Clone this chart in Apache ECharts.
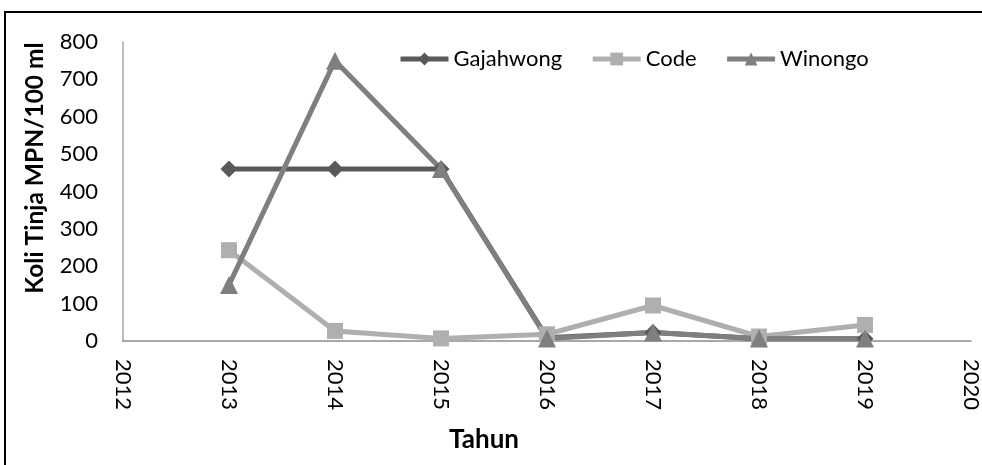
<!DOCTYPE html>
<html>
<head>
<meta charset="utf-8">
<script src="https://cdn.jsdelivr.net/npm/echarts@6/dist/echarts.min.js"></script>
<style>
  html, body { margin: 0; padding: 0; background: #ffffff; }
  #chart { width: 982px; height: 465px; }
</style>
</head>
<body>
<div id="chart"></div>
<script>
// Fecal coliform (MPN/100 ml) per river and year
const years = [2013, 2014, 2015, 2016, 2017, 2018, 2019];
const gajahwong = [460, 460, 460, 9, 23, 6, 6];
const code = [243, 27, 7, 18, 95, 12, 43];
const winongo = [150, 750, 460, 7, 23, 7, 7];
const yTicks = { min: 0, max: 800, step: 100 };
const xTicks = { min: 2012, max: 2020, step: 1 };

const FONT = 'Lato, "Liberation Sans", sans-serif';

function pairs(vals) {
  return years.map((y, i) => [y, vals[i]]);
}

function lineSeries(name, vals, color, symbol, size) {
  return {
    name: name,
    type: 'line',
    data: pairs(vals),
    symbol: symbol,
    symbolSize: size,
    itemStyle: { color: color },
    lineStyle: { color: color, width: 5 },
    emphasis: { disabled: true }
  };
}

const chart = echarts.init(document.getElementById('chart'));
chart.setOption({
  animation: false,
  backgroundColor: '#ffffff',
  grid: { left: 123, right: 4, top: 42, bottom: 124 },
  legend: {
    top: 43,
    left: 393,
    itemWidth: 48,
    itemHeight: 16,
    itemGap: 28,
    lineStyle: { width: 5 },
    textStyle: { fontFamily: FONT, fontSize: 22, color: '#000' },
    data: ['Gajahwong', 'Code', 'Winongo']
  },
  xAxis: {
    type: 'value',
    min: xTicks.min,
    max: xTicks.max,
    interval: xTicks.step,
    axisLine: { show: true, onZero: false, lineStyle: { color: '#8c8c8c', width: 1.5 } },
    axisTick: { show: false },
    splitLine: { show: false },
    axisLabel: {
      rotate: -90,
      margin: 18,
      fontFamily: FONT,
      fontSize: 22,
      color: '#000',
      formatter: v => String(v)
    }
  },
  yAxis: {
    type: 'value',
    min: yTicks.min,
    max: yTicks.max,
    interval: yTicks.step,
    axisLine: { show: true, lineStyle: { color: '#a6a6a6', width: 1.5 } },
    axisTick: { show: false },
    splitLine: { show: false },
    axisLabel: { margin: 25, fontFamily: FONT, fontSize: 22, color: '#000' }
  },
  graphic: [
    {
      type: 'rect',
      shape: { x: 5, y: 12, width: 1000, height: 480 },
      style: { fill: 'none', stroke: '#000', lineWidth: 2 },
      silent: true
    },
    {
      type: 'text',
      x: 35,
      y: 168,
      rotation: Math.PI / 2,
      style: {
        text: 'Koli Tinja MPN/100 ml',
        fontFamily: FONT,
        fontSize: 24.5,
        fontWeight: 'bold',
        fill: '#000',
        align: 'center',
        verticalAlign: 'middle'
      }
    },
    {
      type: 'text',
      x: 484,
      y: 440,
      style: {
        text: 'Tahun',
        fontFamily: FONT,
        fontSize: 26,
        fontWeight: 'bold',
        fill: '#000',
        align: 'center',
        verticalAlign: 'middle'
      }
    }
  ],
  series: [
    lineSeries('Gajahwong', gajahwong, '#595959', 'diamond', 17),
    lineSeries('Code', code, '#afafaf', 'rect', 16),
    lineSeries('Winongo', winongo, '#7f7f7f', 'triangle', 18)
  ]
});
</script>
</body>
</html>
